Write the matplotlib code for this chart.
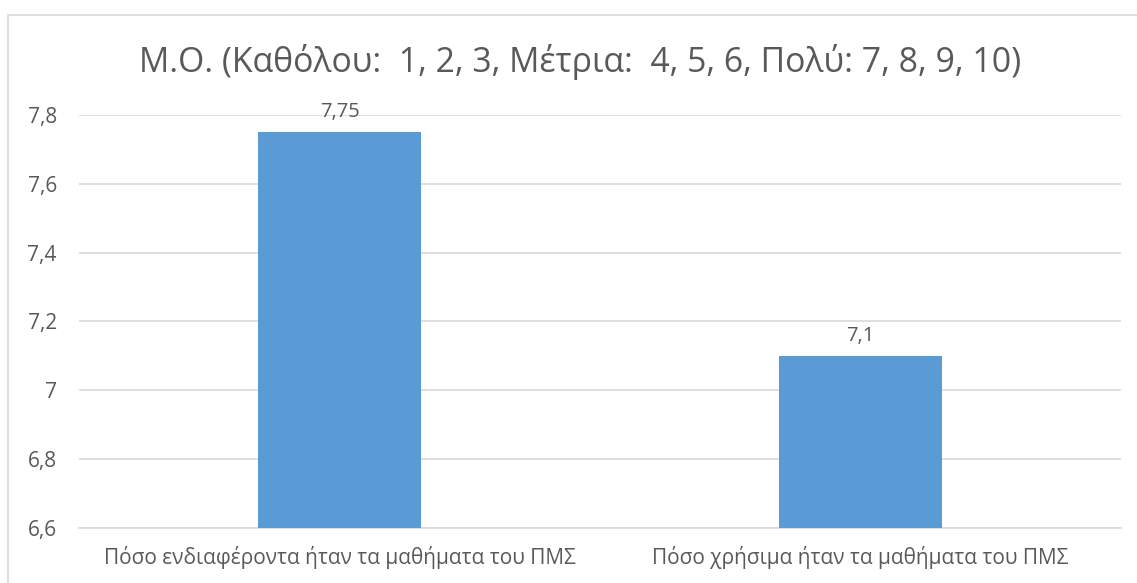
import matplotlib.pyplot as plt
from matplotlib.patches import Rectangle
from matplotlib.ticker import FuncFormatter

plt.rcParams['font.family'] = ['Open Sans', 'DejaVu Sans']

categories = ['Πόσο ενδιαφέροντα ήταν τα μαθήματα του ΠΜΣ',
              'Πόσο χρήσιμα ήταν τα μαθήματα του ΠΜΣ']
values = [7.75, 7.1]
yticks = [6.6, 6.8, 7.0, 7.2, 7.4, 7.6, 7.8]
title = 'Μ.Ο. (Καθόλου:  1, 2, 3, Μέτρια:  4, 5, 6, Πολύ: 7, 8, 9, 10)'

text_color = '#595959'
grid_color = '#D9D9D9'
bar_color = '#5B9BD5'

fig = plt.figure(figsize=(11.37, 5.83), dpi=100)
ax = fig.add_axes([0.0695, 0.0943, 0.9165, 0.7087])

# chart border
fig.patches.append(Rectangle((8 / 1137, -0.1), 1.2, 1 - 15 / 583 + 0.1,
                             transform=fig.transFigure, fill=False,
                             edgecolor=grid_color, linewidth=1.2))

x = list(range(len(categories)))
bars = ax.bar(x, values, width=0.313, color=bar_color, zorder=3)
for b, v in zip(bars, values):
    ax.text(b.get_x() + b.get_width() / 2, v + 0.028, str(v).replace('.', ','),
            ha='center', va='bottom', fontsize=14.5, color=text_color)

ax.set_xlim(-0.5, 1.5)
ax.set_ylim(6.6, 7.8)
ax.set_yticks(yticks)
ax.yaxis.set_major_formatter(FuncFormatter(lambda v, p: ('%g' % round(v, 1)).replace('.', ',')))
ax.set_xticks(x)
ax.set_xticklabels(categories)
ax.tick_params(axis='both', length=0, colors=text_color)
ax.tick_params(axis='y', pad=16, labelsize=15)
ax.tick_params(axis='x', pad=13, labelsize=15)
ax.grid(axis='y', color=grid_color, linewidth=1.2, zorder=0)
for s in ['top', 'right', 'left']:
    ax.spines[s].set_visible(False)
ax.spines['bottom'].set_color(grid_color)
ax.spines['bottom'].set_linewidth(1.2)

fig.text(0.51, 1 - 62 / 583, title, ha='center', va='center', fontsize=24.3, color=text_color)

fig.savefig('out.png', dpi=100)
